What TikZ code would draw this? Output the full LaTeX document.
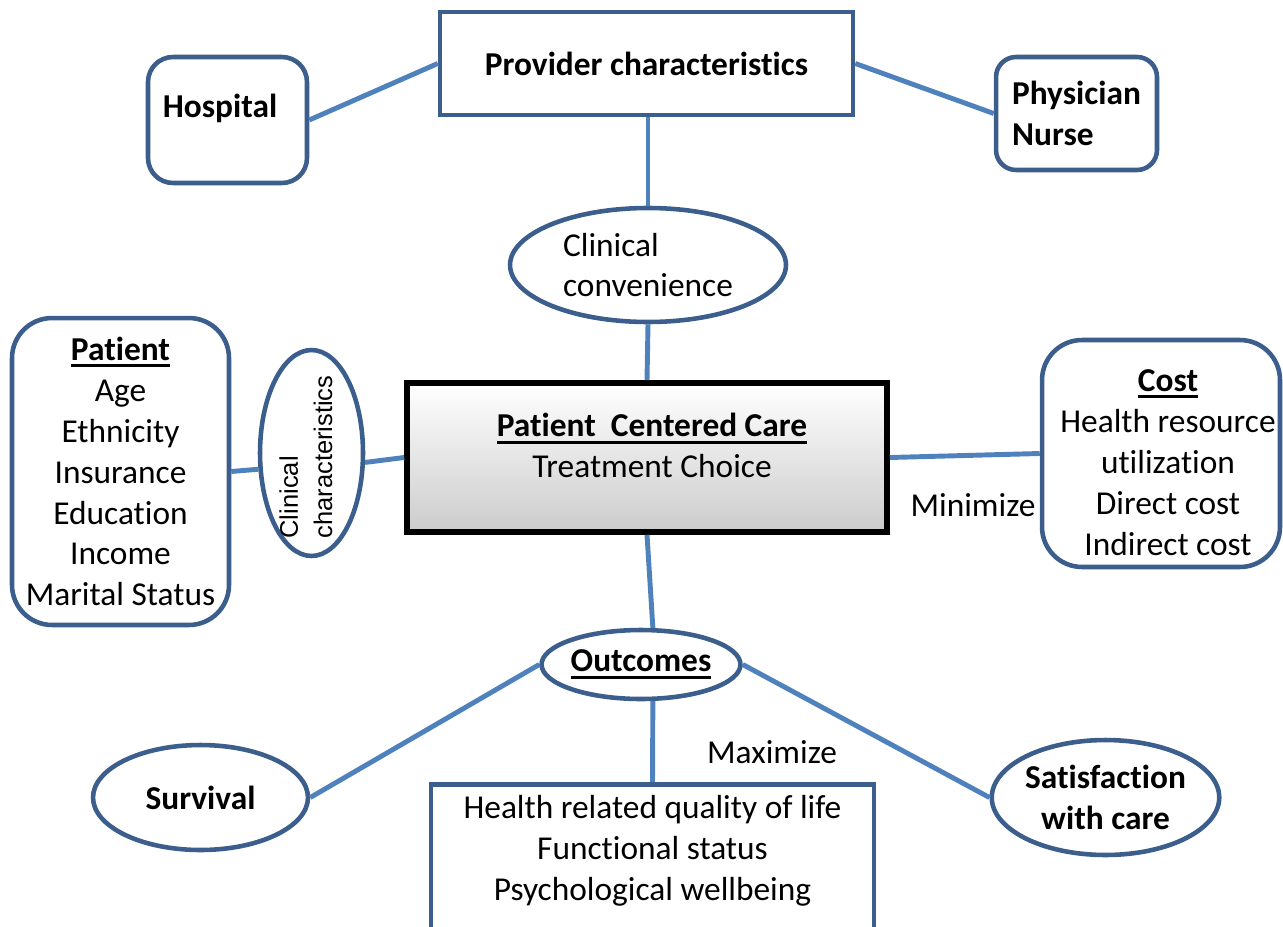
\documentclass[tikz,border=0pt]{standalone}
\usepackage{fontspec}
\setmainfont{Carlito}[RawFeature={-liga;-calt;-clig}]
\newfontfamily\arialfont{Liberation Sans}
\usetikzlibrary{shapes,positioning,calc}

\definecolor{boxblue}{RGB}{59,94,140}
\definecolor{linkblue}{RGB}{79,129,189}

% bold heading with a thick underline
\newcommand{\ulbold}[1]{\sbox0{\textbf{#1}}\rlap{\rule[-4pt]{\wd0}{1.7pt}}\usebox0}

\begin{document}
\begin{tikzpicture}[x=0.02cm, y=-0.02cm,
    every node/.style={font=\fontsize{19}{23.3}\selectfont, align=center},
    sqbox/.style={rectangle, draw=boxblue, line width=2.6pt},
    rbox/.style={rectangle, rounded corners=0.6cm, draw=boxblue, line width=2.6pt},
    oval/.style={ellipse, draw=boxblue, line width=2.6pt, inner sep=0pt},
    link/.style={draw=linkblue, line width=2.8pt}
]
    \clip (0,0) rectangle (1283,926);

    % Provider side
    \node[sqbox, minimum width=8.26cm, minimum height=2.06cm] (prov) at (646.5,63.5) {\textbf{Provider characteristics}};
    \node[rbox, rounded corners=0.5cm, minimum width=3.18cm, minimum height=2.52cm,
        label={[xshift=-0.15cm, yshift=0.24cm]center:\textbf{Hospital}}] (hosp) at (227.5,120) {};
    \node[rbox, rounded corners=0.4cm, minimum width=3.22cm, minimum height=2.26cm, align=left] (phys) at (1076.5,113.5) {\textbf{Physician}\\\textbf{Nurse}};
    \node[oval, minimum width=5.52cm, minimum height=2.28cm, align=left] (conv) at (648,265) {Clinical\\convenience};

    % Central box
    \node[rectangle, draw=black, line width=3.2pt, top color=white, bottom color=black!20,
        minimum width=9.6cm, minimum height=2.98cm,
        label={[xshift=0.1cm, yshift=0.24cm]center:\ulbold{Patient\ \ Centered Care}\\Treatment Choice}] (pcc) at (647,457.5) {};

    % Patient side
    \node[rbox, rounded corners=0.8cm, minimum width=4.34cm, minimum height=6.14cm] (pat) at (120.5,471.5)
        {\ulbold{Patient}\\Age\\Ethnicity\\Insurance\\Education\\Income\\Marital Status};
    \node[oval, minimum width=2.06cm, minimum height=4.12cm] (clin) at (311.5,453) {};
    \node[font=\arialfont\fontsize{14.5}{19.5}\selectfont, rotate=90, align=left] (clintxt) at (306,457) {Clinical\\characteristics};

    % Cost side
    \node[rbox, rounded corners=0.8cm, minimum width=4.76cm, minimum height=4.54cm,
        label={[xshift=0.14cm, yshift=-0.18cm]center:\ulbold{Cost}\\Health resource\\utilization\\Direct cost\\Indirect cost}] (cost) at (1161,453.5) {};
    \node (minlbl) at (973,505) {Minimize};

    % Outcomes
    \node[oval, minimum width=3.88cm, minimum height=1.38cm] (out) at (641,664.5) {\ulbold{Outcomes}};
    \node[oval, minimum width=4.3cm, minimum height=2.1cm] (surv) at (200.5,797.5) {\textbf{Survival}};
    \node[oval, minimum width=4.38cm, minimum height=2.3cm] (sat) at (1105.5,797.5) {\textbf{Satisfaction}\\\textbf{with care}};
    \node[sqbox, anchor=north, minimum width=8.86cm, minimum height=4cm] (qol) at (652.5,782) {};
    \node (qoltxt) at ([yshift=-1.38cm]qol.north) {Health related quality of life\\Functional status\\Psychological wellbeing};
    \node (maxlbl) at (772,752) {Maximize};

    % Connectors
    \draw[link] (hosp.east) -- (prov.west);
    \draw[link] (prov.east) -- (phys.west);
    \draw[link] (prov.south -| conv.north) -- (conv.north);
    \draw[link] (conv.south) -- (pcc.north);
    \draw[link] (pat.east) -- (clin.197);
    \draw[link] (clin.-10) -- (pcc.west);
    \draw[link] (pcc.east) -- (cost.west);
    \draw[link] (pcc.south) -- (out.72);
    \draw[link] (out.-72) -- (qol.north);
    \draw[link] (out.west) -- (surv.east);
    \draw[link] (out.east) -- (sat.west);
\end{tikzpicture}
\end{document}
